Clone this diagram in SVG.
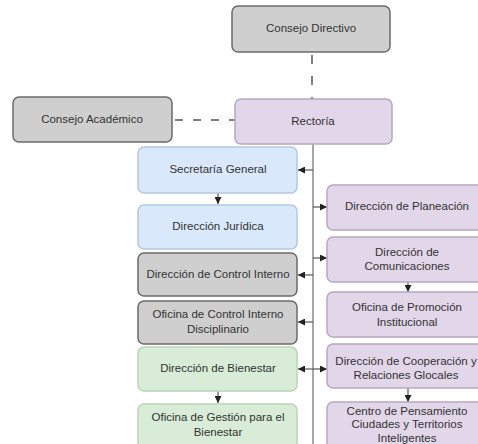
<svg xmlns="http://www.w3.org/2000/svg" width="478" height="444" viewBox="0 0 478 444">
<defs>
<style>
.n rect{stroke-width:1.5}
.gray rect{fill:#cfcfcf;stroke:#6b6b6b}
.purple rect{fill:#e2d6e9;stroke:#b8a6c3}
.blue rect{fill:#d9e8fb;stroke:#b4c9e0}
.green rect{fill:#d8ecd7;stroke:#b8d6b5}
text{font-family:"Liberation Sans",Arial,sans-serif;font-size:11.5px;fill:#333;text-anchor:middle;dominant-baseline:middle}
.c line{stroke:#555;stroke-width:1.2;fill:none}
.c .trunk{stroke:#8a8a8a;stroke-width:1.5}
.c .dash{stroke:#555;stroke-width:1.5}
</style>
<marker id="ah" viewBox="0 0 10 10" refX="10" refY="5" markerWidth="7" markerHeight="7" orient="auto-start-reverse" markerUnits="userSpaceOnUse">
<path d="M0,0 L10,5 L0,10 Z" fill="#222"/>
</marker>
</defs>
<rect width="478" height="444" fill="#fff"/>
<g id="connectors" class="c">
<line class="dash" x1="312" y1="52" x2="312" y2="99" stroke-dasharray="9 12" stroke-dashoffset="-3"/>
<line class="dash" x1="172" y1="120" x2="235" y2="120" stroke-dasharray="8 10" stroke-dashoffset="-3"/>
<line class="trunk" x1="313" y1="144" x2="313" y2="444"/>
<line x1="313" y1="170" x2="298" y2="170" marker-end="url(#ah)"/>
<line x1="218" y1="193" x2="218" y2="204" marker-end="url(#ah)"/>
<line x1="313" y1="207" x2="327" y2="207" marker-end="url(#ah)"/>
<line x1="313" y1="258" x2="327" y2="258" marker-end="url(#ah)"/>
<line x1="313" y1="275" x2="298" y2="275" marker-end="url(#ah)"/>
<line x1="408" y1="282" x2="408" y2="292" marker-end="url(#ah)"/>
<line x1="313" y1="322" x2="298" y2="322" marker-end="url(#ah)"/>
<line x1="298" y1="369" x2="327" y2="369" marker-start="url(#ah)" marker-end="url(#ah)"/>
<line x1="218" y1="391" x2="218" y2="403" marker-end="url(#ah)"/>
<line x1="408" y1="388" x2="408" y2="402" marker-end="url(#ah)"/>
</g>
<g id="consejo-directivo" class="n gray"><rect x="232" y="6" width="158" height="46" rx="6"/><text x="311" y="29">Consejo Directivo</text></g>
<g id="consejo-academico" class="n gray"><rect x="13" y="97" width="159" height="45" rx="6"/><text x="92" y="120">Consejo Académico</text></g>
<g id="rectoria" class="n purple"><rect x="235" y="99" width="157" height="45" rx="6"/><text x="313" y="122">Rectoría</text></g>
<g id="secretaria-general" class="n blue"><rect x="138" y="147" width="159" height="46" rx="6"/><text x="218" y="170">Secretaría General</text></g>
<g id="direccion-juridica" class="n blue"><rect x="138" y="205" width="159" height="44" rx="6"/><text x="218" y="227">Dirección Jurídica</text></g>
<g id="control-interno" class="n gray"><rect x="138" y="253" width="159" height="43" rx="6"/><text x="218" y="275">Dirección de Control Interno</text></g>
<g id="control-disciplinario" class="n gray"><rect x="138" y="301" width="159" height="43" rx="6"/><text x="218" y="315">Oficina de Control Interno</text><text x="218" y="330">Disciplinario</text></g>
<g id="direccion-bienestar" class="n green"><rect x="138" y="347" width="159" height="44" rx="6"/><text x="218" y="369">Dirección de Bienestar</text></g>
<g id="oficina-gestion" class="n green"><rect x="138" y="404" width="159" height="44" rx="6"/><text x="218" y="418">Oficina de Gestión para el</text><text x="218" y="433">Bienestar</text></g>
<g id="direccion-planeacion" class="n purple"><rect x="327" y="185" width="160" height="45" rx="6"/><text x="407" y="207">Dirección de Planeación</text></g>
<g id="direccion-comunicaciones" class="n purple"><rect x="327" y="237" width="160" height="45" rx="6"/><text x="407" y="253">Dirección de</text><text x="407" y="267">Comunicaciones</text></g>
<g id="oficina-promocion" class="n purple"><rect x="327" y="292" width="160" height="45" rx="6"/><text x="407" y="308">Oficina de Promoción</text><text x="407" y="323">Institucional</text></g>
<g id="direccion-cooperacion" class="n purple"><rect x="327" y="344" width="160" height="44" rx="6"/><text x="406" y="362">Dirección de Cooperación y</text><text x="406" y="376">Relaciones Glocales</text></g>
<g id="centro-pensamiento" class="n purple"><rect x="327" y="402" width="160" height="50" rx="6"/><text x="407" y="412">Centro de Pensamiento</text><text x="407" y="425">Ciudades y Territorios</text><text x="407" y="439">Inteligentes</text></g>
</svg>
